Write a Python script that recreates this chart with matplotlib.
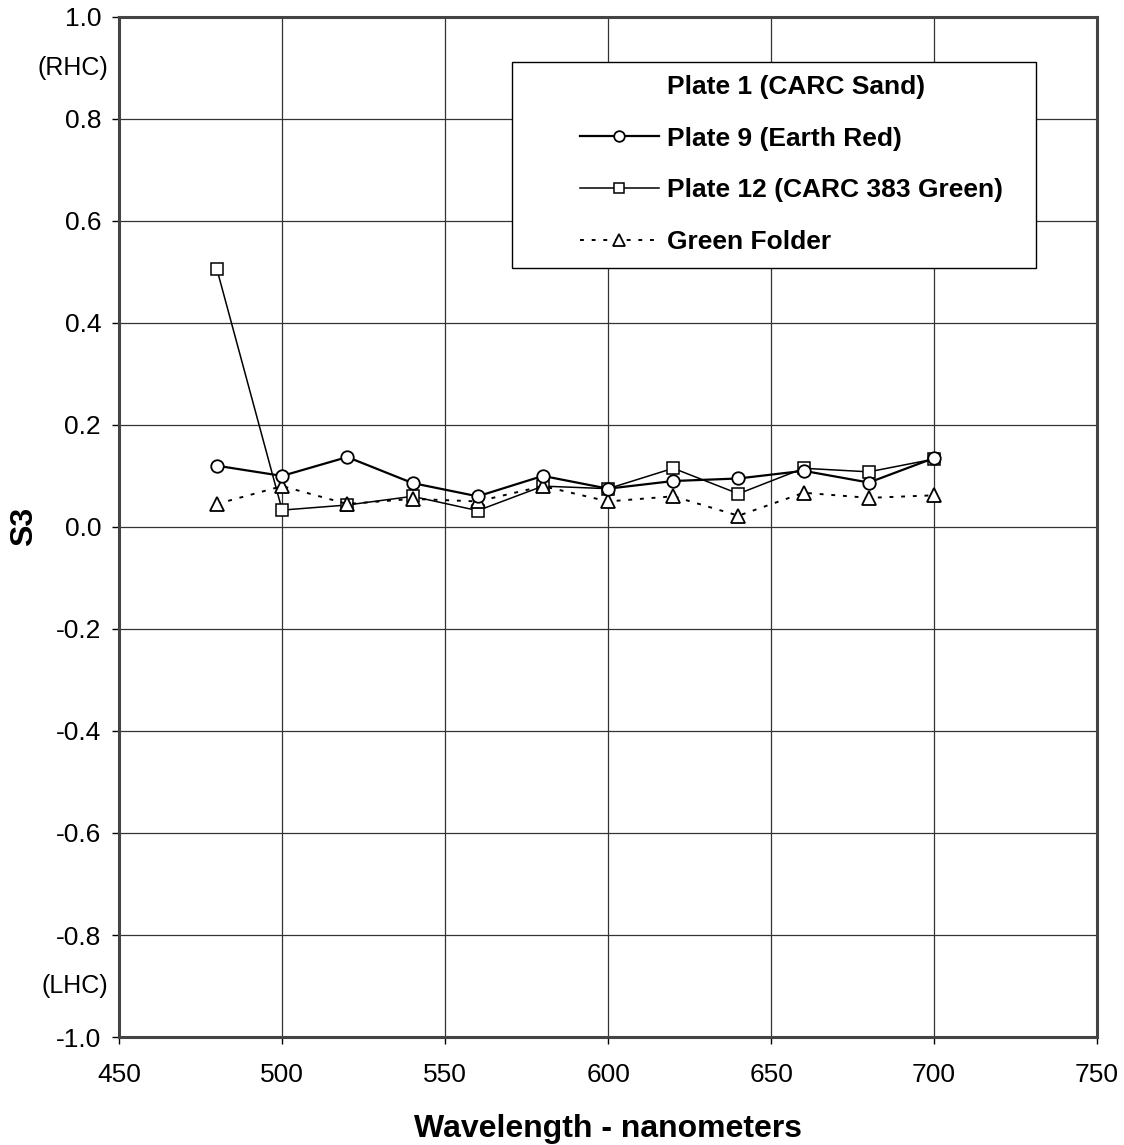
import matplotlib.pyplot as plt
from matplotlib.lines import Line2D
from matplotlib.patches import Rectangle

plt.rcParams['font.family'] = ['Liberation Sans', 'DejaVu Sans']

wavelength = [480, 500, 520, 540, 560, 580, 600, 620, 640, 660, 680, 700]
plate9 = [0.12, 0.10, 0.137, 0.086, 0.06, 0.10, 0.075, 0.09, 0.095, 0.11, 0.087, 0.135]
plate12 = [0.505, 0.033, 0.043, 0.06, 0.032, 0.08, 0.075, 0.115, 0.065, 0.115, 0.108, 0.133]
green_folder = [0.045, 0.08, 0.045, 0.055, 0.05, 0.08, 0.05, 0.06, 0.022, 0.067, 0.057, 0.062]

xticks = [450, 500, 550, 600, 650, 700, 750]
yticks = [-1.0, -0.8, -0.6, -0.4, -0.2, 0.0, 0.2, 0.4, 0.6, 0.8, 1.0]

fig = plt.figure(figsize=(11.24, 11.45), dpi=100)
ax = fig.add_axes([0.106, 0.0943, 0.870, 0.891])

ax.plot(wavelength, plate9, color='black', lw=1.6, marker='o', ms=9,
        mfc='white', mec='black', mew=1.3, label='Plate 9 (Earth Red)', zorder=4)
ax.plot(wavelength, plate12, color='black', lw=1.1, marker='s', ms=8.5,
        mfc='white', mec='black', mew=1.1, label='Plate 12 (CARC 383 Green)', zorder=3)
ax.plot(wavelength, green_folder, color='black', lw=1.4, ls=(0, (2, 4)), marker='^', ms=10,
        mfc='white', mec='black', mew=1.3, label='Green Folder', zorder=3)

ax.set_xlim(450, 750)
ax.set_ylim(-1.0, 1.0)
ax.set_xticks(xticks)
ax.set_yticks(yticks)
ax.set_yticklabels([f'{v:.1f}' for v in yticks])
ax.grid(True, color='#333333', lw=0.9)
ax.set_axisbelow(True)
for s in ax.spines.values():
    s.set_linewidth(2.2)
    s.set_color('#444444')
ax.tick_params(axis='both', direction='out', length=5, width=1, labelsize=19, pad=8)
ax.tick_params(axis='x', pad=14)

ax.text(-0.011, 0.95, '(RHC)', transform=ax.transAxes, ha='right', va='center', fontsize=18)
ax.text(-0.011, 0.05, '(LHC)', transform=ax.transAxes, ha='right', va='center', fontsize=18)

ax.set_xlabel('Wavelength - nanometers', fontsize=23, fontweight='bold', labelpad=19)
ax.set_ylabel('S3', fontsize=23, fontweight='bold', labelpad=12)

# legend box drawn separately so the handles can sit well inside it
box = Rectangle((0.402, 0.754), 0.536, 0.202, transform=ax.transAxes,
                facecolor='white', edgecolor='black', lw=1.0, zorder=4.5)
ax.add_patch(box)

handles, labels = ax.get_legend_handles_labels()
blank = Line2D([], [], color='none')
leg = ax.legend([blank] + handles, ['Plate 1 (CARC Sand)'] + labels,
                loc='upper left', bbox_to_anchor=(0.471, 0.943),
                prop={'weight': 'bold', 'size': 19}, frameon=False,
                handlelength=3.0, labelspacing=1.05, borderpad=0,
                borderaxespad=0, handletextpad=0.3, markerscale=0.85)

fig.savefig('out.png', dpi=100)
